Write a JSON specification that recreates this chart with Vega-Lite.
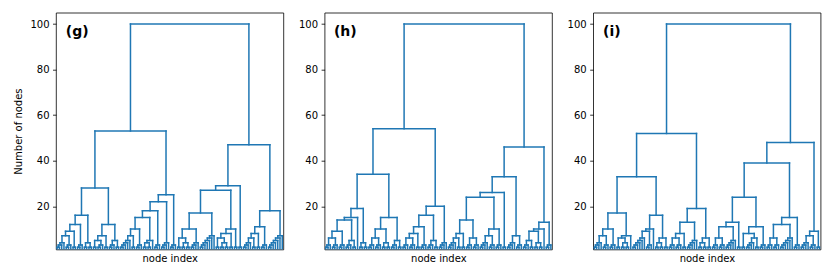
{
  "$schema": "https://vega.github.io/schema/vega-lite/v6.json",
  "background": "white",
  "padding": {"left": 13, "top": 11.7, "right": 5, "bottom": 5},
  "spacing": 40.6,
  "bounds": "flush",
  "config": {
    "font": "DejaVu Sans",
    "view": {"stroke": "black", "strokeWidth": 0.8},
    "axis": {"grid": false, "domain": false, "labelColor": "black", "labelFontSize": 10, "tickColor": "black", "tickSize": 3.5, "tickWidth": 0.8, "labelPadding": 3.5, "titleColor": "black", "titleFontSize": 10, "titleFontWeight": "normal"},
    "axisX": {"labels": false, "ticks": false, "titlePadding": 4},
    "axisY": {"values": [20, 40, 60, 80, 100], "titlePadding": 6}
  },
  "datasets": {
    "g": [
      {"a":0.5,"b":1.5,"y":2,"ya":0,"yb":0},{"a":1,"b":2.5,"y":3,"ya":2,"yb":0},{"a":1.75,"b":3.5,"y":4,"ya":3,"yb":0},
      {"a":4.5,"b":5.5,"y":2,"ya":0,"yb":0},{"a":5,"b":6.5,"y":3,"ya":2,"yb":0},{"a":2.63,"b":5.75,"y":7,"ya":4,"yb":3},
      {"a":7.5,"b":8.5,"y":2,"ya":0,"yb":0},{"a":4.19,"b":8,"y":9,"ya":7,"yb":2},{"a":9.5,"b":10.5,"y":2,"ya":0,"yb":0},
      {"a":10,"b":11.5,"y":3,"ya":2,"yb":0},{"a":6.09,"b":10.75,"y":12,"ya":9,"yb":3},{"a":12.5,"b":13.5,"y":2,"ya":0,"yb":0},
      {"a":14.5,"b":15.5,"y":2,"ya":0,"yb":0},{"a":13,"b":15,"y":4,"ya":2,"yb":2},{"a":8.42,"b":14,"y":16,"ya":12,"yb":4},
      {"a":16.5,"b":17.5,"y":2,"ya":0,"yb":0},{"a":18.5,"b":19.5,"y":2,"ya":0,"yb":0},{"a":19,"b":20.5,"y":3,"ya":2,"yb":0},
      {"a":17,"b":19.75,"y":5,"ya":2,"yb":3},{"a":21.5,"b":22.5,"y":2,"ya":0,"yb":0},{"a":18.38,"b":22,"y":7,"ya":5,"yb":2},
      {"a":23.5,"b":24.5,"y":2,"ya":0,"yb":0},{"a":24,"b":25.5,"y":3,"ya":2,"yb":0},{"a":26.5,"b":27.5,"y":2,"ya":0,"yb":0},
      {"a":24.75,"b":27,"y":5,"ya":3,"yb":2},{"a":20.19,"b":25.88,"y":12,"ya":7,"yb":5},{"a":11.21,"b":23.03,"y":28,"ya":16,"yb":12},
      {"a":28.5,"b":29.5,"y":2,"ya":0,"yb":0},{"a":29,"b":30.5,"y":3,"ya":2,"yb":0},{"a":29.75,"b":31.5,"y":4,"ya":3,"yb":0},
      {"a":30.63,"b":32.5,"y":5,"ya":4,"yb":0},{"a":33.5,"b":34.5,"y":2,"ya":0,"yb":0},{"a":31.56,"b":34,"y":7,"ya":5,"yb":2},
      {"a":35.5,"b":36.5,"y":2,"ya":0,"yb":0},{"a":36,"b":37.5,"y":3,"ya":2,"yb":0},{"a":32.78,"b":36.75,"y":10,"ya":7,"yb":3},
      {"a":38.5,"b":39.5,"y":2,"ya":0,"yb":0},{"a":40.5,"b":41.5,"y":2,"ya":0,"yb":0},{"a":39,"b":41,"y":4,"ya":2,"yb":2},
      {"a":40,"b":42.5,"y":5,"ya":4,"yb":0},{"a":34.77,"b":41.25,"y":15,"ya":10,"yb":5},{"a":43.5,"b":44.5,"y":2,"ya":0,"yb":0},
      {"a":44,"b":45.5,"y":3,"ya":2,"yb":0},{"a":38.01,"b":44.75,"y":18,"ya":15,"yb":3},{"a":46.5,"b":47.5,"y":2,"ya":0,"yb":0},
      {"a":47,"b":48.5,"y":3,"ya":2,"yb":0},{"a":47.75,"b":49.5,"y":4,"ya":3,"yb":0},{"a":41.38,"b":48.63,"y":22,"ya":18,"yb":4},
      {"a":50.5,"b":51.5,"y":2,"ya":0,"yb":0},{"a":51,"b":52.5,"y":3,"ya":2,"yb":0},{"a":45,"b":51.75,"y":25,"ya":22,"yb":3},
      {"a":17.12,"b":48.38,"y":53,"ya":28,"yb":25},
      {"a":53.5,"b":54.5,"y":2,"ya":0,"yb":0},{"a":55.5,"b":56.5,"y":2,"ya":0,"yb":0},{"a":57.5,"b":58.5,"y":2,"ya":0,"yb":0},
      {"a":56,"b":58,"y":4,"ya":2,"yb":2},{"a":54,"b":57,"y":6,"ya":2,"yb":4},{"a":59.5,"b":60.5,"y":2,"ya":0,"yb":0},
      {"a":60,"b":61.5,"y":3,"ya":2,"yb":0},{"a":60.75,"b":62.5,"y":4,"ya":3,"yb":0},{"a":55.5,"b":61.63,"y":10,"ya":6,"yb":4},
      {"a":63.5,"b":64.5,"y":2,"ya":0,"yb":0},{"a":64,"b":65.5,"y":3,"ya":2,"yb":0},{"a":64.75,"b":66.5,"y":4,"ya":3,"yb":0},
      {"a":65.63,"b":67.5,"y":5,"ya":4,"yb":0},{"a":66.56,"b":68.5,"y":6,"ya":5,"yb":0},{"a":67.53,"b":69.5,"y":7,"ya":6,"yb":0},
      {"a":58.56,"b":68.52,"y":17,"ya":10,"yb":7},{"a":70.5,"b":71.5,"y":2,"ya":0,"yb":0},{"a":72.5,"b":73.5,"y":2,"ya":0,"yb":0},
      {"a":74.5,"b":75.5,"y":2,"ya":0,"yb":0},{"a":73,"b":75,"y":4,"ya":2,"yb":2},{"a":71,"b":74,"y":6,"ya":2,"yb":4},
      {"a":76.5,"b":77.5,"y":2,"ya":0,"yb":0},{"a":72.5,"b":77,"y":8,"ya":6,"yb":2},{"a":78.5,"b":79.5,"y":2,"ya":0,"yb":0},
      {"a":74.75,"b":79,"y":10,"ya":8,"yb":2},{"a":63.54,"b":76.88,"y":27,"ya":17,"yb":10},{"a":80.5,"b":81.5,"y":2,"ya":0,"yb":0},
      {"a":70.21,"b":81,"y":29,"ya":27,"yb":2},{"a":82.5,"b":83.5,"y":2,"ya":0,"yb":0},{"a":83,"b":84.5,"y":3,"ya":2,"yb":0},
      {"a":83.75,"b":85.5,"y":4,"ya":3,"yb":0},{"a":86.5,"b":87.5,"y":2,"ya":0,"yb":0},{"a":84.63,"b":87,"y":6,"ya":4,"yb":2},
      {"a":88.5,"b":89.5,"y":2,"ya":0,"yb":0},{"a":85.81,"b":89,"y":8,"ya":6,"yb":2},{"a":90.5,"b":91.5,"y":2,"ya":0,"yb":0},
      {"a":91,"b":92.5,"y":3,"ya":2,"yb":0},{"a":87.41,"b":91.75,"y":11,"ya":8,"yb":3},{"a":93.5,"b":94.5,"y":2,"ya":0,"yb":0},
      {"a":94,"b":95.5,"y":3,"ya":2,"yb":0},{"a":94.75,"b":96.5,"y":4,"ya":3,"yb":0},{"a":95.63,"b":97.5,"y":5,"ya":4,"yb":0},
      {"a":96.56,"b":98.5,"y":6,"ya":5,"yb":0},{"a":97.53,"b":99.5,"y":7,"ya":6,"yb":0},{"a":89.58,"b":98.52,"y":18,"ya":11,"yb":7},
      {"a":75.61,"b":94.05,"y":47,"ya":29,"yb":18},{"a":32.75,"b":84.83,"y":100,"ya":53,"yb":47}
    ],
    "h": [
      {"a":0.5,"b":1.5,"y":2,"ya":0,"yb":0},{"a":1,"b":2.5,"y":3,"ya":2,"yb":0},{"a":3.5,"b":4.5,"y":2,"ya":0,"yb":0},
      {"a":4,"b":5.5,"y":3,"ya":2,"yb":0},{"a":1.75,"b":4.75,"y":6,"ya":3,"yb":3},{"a":6.5,"b":7.5,"y":2,"ya":0,"yb":0},
      {"a":7,"b":8.5,"y":3,"ya":2,"yb":0},{"a":3.25,"b":7.75,"y":9,"ya":6,"yb":3},{"a":9.5,"b":10.5,"y":2,"ya":0,"yb":0},
      {"a":10,"b":11.5,"y":3,"ya":2,"yb":0},{"a":12.5,"b":13.5,"y":2,"ya":0,"yb":0},{"a":10.75,"b":13,"y":5,"ya":3,"yb":2},
      {"a":5.5,"b":11.88,"y":14,"ya":9,"yb":5},{"a":8.69,"b":14.5,"y":15,"ya":14,"yb":0},{"a":15.5,"b":16.5,"y":2,"ya":0,"yb":0},
      {"a":17.5,"b":18.5,"y":2,"ya":0,"yb":0},{"a":16,"b":18,"y":4,"ya":2,"yb":2},{"a":11.59,"b":17,"y":19,"ya":15,"yb":4},
      {"a":19.5,"b":20.5,"y":2,"ya":0,"yb":0},{"a":20,"b":21.5,"y":3,"ya":2,"yb":0},{"a":22.5,"b":23.5,"y":2,"ya":0,"yb":0},
      {"a":23,"b":24.5,"y":3,"ya":2,"yb":0},{"a":20.75,"b":23.75,"y":6,"ya":3,"yb":3},{"a":25.5,"b":26.5,"y":2,"ya":0,"yb":0},
      {"a":27.5,"b":28.5,"y":2,"ya":0,"yb":0},{"a":26,"b":28,"y":4,"ya":2,"yb":2},{"a":22.25,"b":27,"y":10,"ya":6,"yb":4},
      {"a":29.5,"b":30.5,"y":2,"ya":0,"yb":0},{"a":30,"b":31.5,"y":3,"ya":2,"yb":0},{"a":32.5,"b":33.5,"y":2,"ya":0,"yb":0},
      {"a":30.75,"b":33,"y":5,"ya":3,"yb":2},{"a":24.63,"b":31.88,"y":15,"ya":10,"yb":5},{"a":14.3,"b":28.25,"y":34,"ya":19,"yb":15},
      {"a":34.5,"b":35.5,"y":2,"ya":0,"yb":0},{"a":35,"b":36.5,"y":3,"ya":2,"yb":0},{"a":37.5,"b":38.5,"y":2,"ya":0,"yb":0},
      {"a":38,"b":39.5,"y":3,"ya":2,"yb":0},{"a":35.75,"b":38.75,"y":6,"ya":3,"yb":3},{"a":40.5,"b":41.5,"y":2,"ya":0,"yb":0},
      {"a":37.25,"b":41,"y":8,"ya":6,"yb":2},{"a":42.5,"b":43.5,"y":2,"ya":0,"yb":0},{"a":43,"b":44.5,"y":3,"ya":2,"yb":0},
      {"a":39.13,"b":43.75,"y":11,"ya":8,"yb":3},{"a":45.5,"b":46.5,"y":2,"ya":0,"yb":0},{"a":46,"b":47.5,"y":3,"ya":2,"yb":0},
      {"a":48.5,"b":49.5,"y":2,"ya":0,"yb":0},{"a":46.75,"b":49,"y":5,"ya":3,"yb":2},{"a":41.44,"b":47.88,"y":16,"ya":11,"yb":5},
      {"a":50.5,"b":51.5,"y":2,"ya":0,"yb":0},{"a":51,"b":52.5,"y":3,"ya":2,"yb":0},{"a":51.75,"b":53.5,"y":4,"ya":3,"yb":0},
      {"a":44.66,"b":52.63,"y":20,"ya":16,"yb":4},{"a":21.28,"b":48.64,"y":54,"ya":34,"yb":20},
      {"a":54.5,"b":55.5,"y":2,"ya":0,"yb":0},{"a":55,"b":56.5,"y":3,"ya":2,"yb":0},{"a":55.75,"b":57.5,"y":4,"ya":3,"yb":0},
      {"a":58.5,"b":59.5,"y":2,"ya":0,"yb":0},{"a":56.63,"b":59,"y":6,"ya":4,"yb":2},{"a":60.5,"b":61.5,"y":2,"ya":0,"yb":0},
      {"a":57.81,"b":61,"y":8,"ya":6,"yb":2},{"a":62.5,"b":63.5,"y":2,"ya":0,"yb":0},{"a":63,"b":64.5,"y":3,"ya":2,"yb":0},
      {"a":65.5,"b":66.5,"y":2,"ya":0,"yb":0},{"a":66,"b":67.5,"y":3,"ya":2,"yb":0},{"a":63.75,"b":66.75,"y":6,"ya":3,"yb":3},
      {"a":59.41,"b":65.25,"y":14,"ya":8,"yb":6},{"a":68.5,"b":69.5,"y":2,"ya":0,"yb":0},{"a":69,"b":70.5,"y":3,"ya":2,"yb":0},
      {"a":69.75,"b":71.5,"y":4,"ya":3,"yb":0},{"a":72.5,"b":73.5,"y":2,"ya":0,"yb":0},{"a":73,"b":74.5,"y":3,"ya":2,"yb":0},
      {"a":70.63,"b":73.75,"y":7,"ya":4,"yb":3},{"a":75.5,"b":76.5,"y":2,"ya":0,"yb":0},{"a":76,"b":77.5,"y":3,"ya":2,"yb":0},
      {"a":72.19,"b":76.75,"y":10,"ya":7,"yb":3},{"a":62.33,"b":74.47,"y":24,"ya":14,"yb":10},{"a":78.5,"b":79.5,"y":2,"ya":0,"yb":0},
      {"a":68.4,"b":79,"y":26,"ya":24,"yb":2},{"a":80.5,"b":81.5,"y":2,"ya":0,"yb":0},{"a":81,"b":82.5,"y":3,"ya":2,"yb":0},
      {"a":81.75,"b":83.5,"y":4,"ya":3,"yb":0},{"a":84.5,"b":85.5,"y":2,"ya":0,"yb":0},{"a":85,"b":86.5,"y":3,"ya":2,"yb":0},
      {"a":82.63,"b":85.75,"y":7,"ya":4,"yb":3},{"a":73.7,"b":84.19,"y":33,"ya":26,"yb":7},{"a":87.5,"b":88.5,"y":2,"ya":0,"yb":0},
      {"a":88,"b":89.5,"y":3,"ya":2,"yb":0},{"a":90.5,"b":91.5,"y":2,"ya":0,"yb":0},{"a":88.75,"b":91,"y":5,"ya":3,"yb":2},
      {"a":92.5,"b":93.5,"y":2,"ya":0,"yb":0},{"a":94.5,"b":95.5,"y":2,"ya":0,"yb":0},{"a":93,"b":95,"y":4,"ya":2,"yb":2},
      {"a":89.88,"b":94,"y":9,"ya":5,"yb":4},{"a":91.94,"b":96.5,"y":10,"ya":9,"yb":0},{"a":97.5,"b":98.5,"y":2,"ya":0,"yb":0},
      {"a":98,"b":99.5,"y":3,"ya":2,"yb":0},{"a":94.22,"b":98.75,"y":13,"ya":10,"yb":3},{"a":78.95,"b":96.48,"y":46,"ya":33,"yb":13},
      {"a":34.96,"b":87.72,"y":100,"ya":54,"yb":46}
    ],
    "i": [
      {"a":0.5,"b":1.5,"y":2,"ya":0,"yb":0},{"a":1,"b":2.5,"y":3,"ya":2,"yb":0},{"a":1.75,"b":3.5,"y":4,"ya":3,"yb":0},
      {"a":4.5,"b":5.5,"y":2,"ya":0,"yb":0},{"a":5,"b":6.5,"y":3,"ya":2,"yb":0},{"a":2.63,"b":5.75,"y":7,"ya":4,"yb":3},
      {"a":7.5,"b":8.5,"y":2,"ya":0,"yb":0},{"a":8,"b":9.5,"y":3,"ya":2,"yb":0},{"a":4.19,"b":8.75,"y":10,"ya":7,"yb":3},
      {"a":10.5,"b":11.5,"y":2,"ya":0,"yb":0},{"a":12.5,"b":13.5,"y":2,"ya":0,"yb":0},{"a":14.5,"b":15.5,"y":2,"ya":0,"yb":0},
      {"a":13,"b":15,"y":4,"ya":2,"yb":2},{"a":11,"b":14,"y":6,"ya":2,"yb":4},{"a":12.5,"b":16.5,"y":7,"ya":6,"yb":0},
      {"a":6.47,"b":14.5,"y":17,"ya":10,"yb":7},
      {"a":17.5,"b":18.5,"y":2,"ya":0,"yb":0},{"a":18,"b":19.5,"y":3,"ya":2,"yb":0},{"a":18.75,"b":20.5,"y":4,"ya":3,"yb":0},
      {"a":19.63,"b":21.5,"y":5,"ya":4,"yb":0},{"a":20.56,"b":22.5,"y":6,"ya":5,"yb":0},{"a":23.5,"b":24.5,"y":2,"ya":0,"yb":0},
      {"a":24,"b":25.5,"y":3,"ya":2,"yb":0},{"a":21.53,"b":24.75,"y":9,"ya":6,"yb":3},{"a":23.14,"b":26.5,"y":10,"ya":9,"yb":0},
      {"a":27.5,"b":28.5,"y":2,"ya":0,"yb":0},{"a":29.5,"b":30.5,"y":2,"ya":0,"yb":0},{"a":28,"b":30,"y":4,"ya":2,"yb":2},
      {"a":31.5,"b":32.5,"y":2,"ya":0,"yb":0},{"a":29,"b":32,"y":6,"ya":4,"yb":2},{"a":24.82,"b":30.5,"y":16,"ya":10,"yb":6},
      {"a":10.49,"b":27.66,"y":33,"ya":17,"yb":16},
      {"a":33.5,"b":34.5,"y":2,"ya":0,"yb":0},{"a":34,"b":35.5,"y":3,"ya":2,"yb":0},{"a":36.5,"b":37.5,"y":2,"ya":0,"yb":0},
      {"a":37,"b":38.5,"y":3,"ya":2,"yb":0},{"a":34.75,"b":37.75,"y":6,"ya":3,"yb":3},{"a":39.5,"b":40.5,"y":2,"ya":0,"yb":0},
      {"a":36.25,"b":40,"y":8,"ya":6,"yb":2},{"a":41.5,"b":42.5,"y":2,"ya":0,"yb":0},{"a":42,"b":43.5,"y":3,"ya":2,"yb":0},
      {"a":42.75,"b":44.5,"y":4,"ya":3,"yb":0},{"a":43.63,"b":45.5,"y":5,"ya":4,"yb":0},{"a":38.13,"b":44.56,"y":13,"ya":8,"yb":5},
      {"a":46.5,"b":47.5,"y":2,"ya":0,"yb":0},{"a":48.5,"b":49.5,"y":2,"ya":0,"yb":0},{"a":47,"b":49,"y":4,"ya":2,"yb":2},
      {"a":50.5,"b":51.5,"y":2,"ya":0,"yb":0},{"a":48,"b":51,"y":6,"ya":4,"yb":2},{"a":41.34,"b":49.5,"y":19,"ya":13,"yb":6},
      {"a":19.08,"b":45.42,"y":52,"ya":33,"yb":19},
      {"a":52.5,"b":53.5,"y":2,"ya":0,"yb":0},{"a":53,"b":54.5,"y":3,"ya":2,"yb":0},{"a":55.5,"b":56.5,"y":2,"ya":0,"yb":0},
      {"a":56,"b":57.5,"y":3,"ya":2,"yb":0},{"a":53.75,"b":56.75,"y":6,"ya":3,"yb":3},{"a":58.5,"b":59.5,"y":2,"ya":0,"yb":0},
      {"a":59,"b":60.5,"y":3,"ya":2,"yb":0},{"a":59.75,"b":61.5,"y":4,"ya":3,"yb":0},{"a":60.63,"b":62.5,"y":5,"ya":4,"yb":0},
      {"a":55.25,"b":61.56,"y":11,"ya":6,"yb":5},{"a":63.5,"b":64.5,"y":2,"ya":0,"yb":0},{"a":58.41,"b":64,"y":13,"ya":11,"yb":2},
      {"a":65.5,"b":66.5,"y":2,"ya":0,"yb":0},{"a":67.5,"b":68.5,"y":2,"ya":0,"yb":0},{"a":68,"b":69.5,"y":3,"ya":2,"yb":0},
      {"a":68.75,"b":70.5,"y":4,"ya":3,"yb":0},{"a":71.5,"b":72.5,"y":2,"ya":0,"yb":0},{"a":69.63,"b":72,"y":6,"ya":4,"yb":2},
      {"a":66,"b":70.81,"y":8,"ya":2,"yb":6},{"a":73.5,"b":74.5,"y":2,"ya":0,"yb":0},{"a":74,"b":75.5,"y":3,"ya":2,"yb":0},
      {"a":68.41,"b":74.75,"y":11,"ya":8,"yb":3},{"a":61.2,"b":71.58,"y":24,"ya":13,"yb":11},
      {"a":76.5,"b":77.5,"y":2,"ya":0,"yb":0},{"a":77,"b":78.5,"y":3,"ya":2,"yb":0},{"a":79.5,"b":80.5,"y":2,"ya":0,"yb":0},
      {"a":80,"b":81.5,"y":3,"ya":2,"yb":0},{"a":77.75,"b":80.75,"y":6,"ya":3,"yb":3},{"a":82.5,"b":83.5,"y":2,"ya":0,"yb":0},
      {"a":83,"b":84.5,"y":3,"ya":2,"yb":0},{"a":83.75,"b":85.5,"y":4,"ya":3,"yb":0},{"a":84.63,"b":86.5,"y":5,"ya":4,"yb":0},
      {"a":85.56,"b":87.5,"y":6,"ya":5,"yb":0},{"a":79.25,"b":86.53,"y":12,"ya":6,"yb":6},{"a":88.5,"b":89.5,"y":2,"ya":0,"yb":0},
      {"a":89,"b":90.5,"y":3,"ya":2,"yb":0},{"a":82.89,"b":89.75,"y":15,"ya":12,"yb":3},{"a":66.39,"b":86.32,"y":39,"ya":24,"yb":15},
      {"a":91.5,"b":92.5,"y":2,"ya":0,"yb":0},{"a":92,"b":93.5,"y":3,"ya":2,"yb":0},{"a":92.75,"b":94.5,"y":4,"ya":3,"yb":0},
      {"a":95.5,"b":96.5,"y":2,"ya":0,"yb":0},{"a":96,"b":97.5,"y":3,"ya":2,"yb":0},{"a":93.63,"b":96.75,"y":7,"ya":4,"yb":3},
      {"a":98.5,"b":99.5,"y":2,"ya":0,"yb":0},{"a":95.19,"b":99,"y":9,"ya":7,"yb":2},{"a":76.36,"b":97.1,"y":48,"ya":39,"yb":9},
      {"a":32.25,"b":86.73,"y":100,"ya":52,"yb":48}
    ]
  },
  "hconcat": [
    {
      "width": 227.4, "height": 236.8,
      "data": {"name": "g"},
      "layer": [
        {"mark": {"type": "rule", "clip": true, "color": "#1f77b4", "strokeWidth": 1.5, "strokeCap": "square"},
         "encoding": {
           "x": {"field": "a", "type": "quantitative", "scale": {"domain": [0, 100], "nice": false, "zero": false}, "title": "node index"},
           "x2": {"field": "b"},
           "y": {"field": "y", "type": "quantitative", "scale": {"domain": [1, 105], "nice": false, "zero": false}, "title": "Number of nodes"}
         }},
        {"mark": {"type": "rule", "clip": true, "color": "#1f77b4", "strokeWidth": 1.5, "strokeCap": "square"},
         "encoding": {"x": {"field": "a", "type": "quantitative", "title": "node index"}, "y": {"field": "ya", "type": "quantitative", "title": "Number of nodes"}, "y2": {"field": "y"}}},
        {"mark": {"type": "rule", "clip": true, "color": "#1f77b4", "strokeWidth": 1.5, "strokeCap": "square"},
         "encoding": {"x": {"field": "b", "type": "quantitative", "title": "node index"}, "y": {"field": "yb", "type": "quantitative", "title": "Number of nodes"}, "y2": {"field": "y"}}},
        {"data": {"values": [{"lab": "(g)", "lx": 4.3, "ly": 96.6}]},
         "mark": {"type": "text", "fontWeight": "bold", "fontSize": 14, "align": "left", "baseline": "middle", "color": "black"},
         "encoding": {"x": {"field": "lx", "type": "quantitative", "title": "node index"}, "y": {"field": "ly", "type": "quantitative", "title": "Number of nodes"}, "text": {"field": "lab"}}}
      ]
    },
    {
      "width": 227.4, "height": 236.8,
      "data": {"name": "h"},
      "layer": [
        {"mark": {"type": "rule", "clip": true, "color": "#1f77b4", "strokeWidth": 1.5, "strokeCap": "square"},
         "encoding": {
           "x": {"field": "a", "type": "quantitative", "scale": {"domain": [0, 100], "nice": false, "zero": false}, "title": "node index"},
           "x2": {"field": "b"},
           "y": {"field": "y", "type": "quantitative", "scale": {"domain": [1, 105], "nice": false, "zero": false}, "title": null}
         }},
        {"mark": {"type": "rule", "clip": true, "color": "#1f77b4", "strokeWidth": 1.5, "strokeCap": "square"},
         "encoding": {"x": {"field": "a", "type": "quantitative", "title": "node index"}, "y": {"field": "ya", "type": "quantitative", "title": null}, "y2": {"field": "y"}}},
        {"mark": {"type": "rule", "clip": true, "color": "#1f77b4", "strokeWidth": 1.5, "strokeCap": "square"},
         "encoding": {"x": {"field": "b", "type": "quantitative", "title": "node index"}, "y": {"field": "yb", "type": "quantitative", "title": null}, "y2": {"field": "y"}}},
        {"data": {"values": [{"lab": "(h)", "lx": 4.1, "ly": 96.6}]},
         "mark": {"type": "text", "fontWeight": "bold", "fontSize": 14, "align": "left", "baseline": "middle", "color": "black"},
         "encoding": {"x": {"field": "lx", "type": "quantitative", "title": "node index"}, "y": {"field": "ly", "type": "quantitative", "title": null}, "text": {"field": "lab"}}}
      ]
    },
    {
      "width": 227.4, "height": 236.8,
      "data": {"name": "i"},
      "layer": [
        {"mark": {"type": "rule", "clip": true, "color": "#1f77b4", "strokeWidth": 1.5, "strokeCap": "square"},
         "encoding": {
           "x": {"field": "a", "type": "quantitative", "scale": {"domain": [0, 100], "nice": false, "zero": false}, "title": "node index"},
           "x2": {"field": "b"},
           "y": {"field": "y", "type": "quantitative", "scale": {"domain": [1, 105], "nice": false, "zero": false}, "title": null}
         }},
        {"mark": {"type": "rule", "clip": true, "color": "#1f77b4", "strokeWidth": 1.5, "strokeCap": "square"},
         "encoding": {"x": {"field": "a", "type": "quantitative", "title": "node index"}, "y": {"field": "ya", "type": "quantitative", "title": null}, "y2": {"field": "y"}}},
        {"mark": {"type": "rule", "clip": true, "color": "#1f77b4", "strokeWidth": 1.5, "strokeCap": "square"},
         "encoding": {"x": {"field": "b", "type": "quantitative", "title": "node index"}, "y": {"field": "yb", "type": "quantitative", "title": null}, "y2": {"field": "y"}}},
        {"data": {"values": [{"lab": "(i)", "lx": 4.3, "ly": 96.6}]},
         "mark": {"type": "text", "fontWeight": "bold", "fontSize": 14, "align": "left", "baseline": "middle", "color": "black"},
         "encoding": {"x": {"field": "lx", "type": "quantitative", "title": "node index"}, "y": {"field": "ly", "type": "quantitative", "title": null}, "text": {"field": "lab"}}}
      ]
    }
  ]
}
